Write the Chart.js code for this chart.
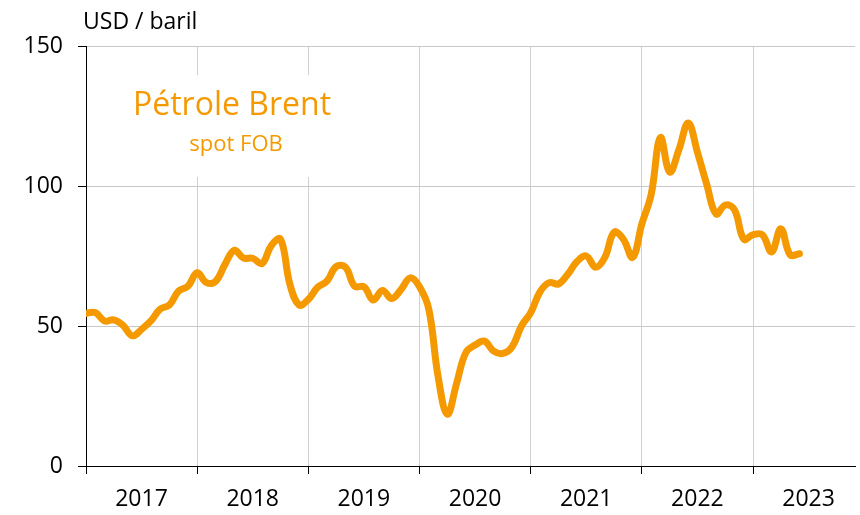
<!DOCTYPE html>
<html>
<head>
<meta charset="utf-8">
<script src="https://cdn.jsdelivr.net/npm/chart.js@4/dist/chart.umd.min.js"></script>
<style>
  html, body { margin: 0; padding: 0; background: #fff; }
  #wrap { position: relative; width: 860px; height: 515px; }
</style>
</head>
<body>
<div id="wrap"><canvas id="myChart" width="860" height="515"></canvas></div>
<script>
// Brent spot FOB, monthly average, Jan 2017 .. Jun 2023 (USD / baril)
var years = ["2017", "2018", "2019", "2020", "2021", "2022", "2023"];
var yearStarts = [0, 12, 24, 36, 48, 60, 72];
var prices = [
    54.5, 54.8, 51.8, 52.2, 50.2, 46.5, 48.8, 51.8, 56.0, 57.5, 62.5, 64.2,
    69.0, 65.5, 66.0, 72.0, 77.0, 74.3, 74.2, 72.3, 78.7, 81.0, 65.0, 57.5,
    59.5, 63.8, 66.0, 71.2, 71.0, 64.2, 64.0, 59.3, 62.7, 59.8, 63.0, 67.2,
    64.0, 56.0, 32.0, 18.5, 29.5, 40.5, 43.2, 44.6, 41.0, 40.2, 42.6, 50.0,
    54.8, 62.2, 65.5, 65.0, 68.5, 73.0, 75.0, 71.0, 74.5, 83.5, 81.0, 74.5,
    86.5, 97.0, 117.3, 105.0, 113.0, 122.5, 112.0, 100.5, 90.0, 93.2, 91.5, 81.0,
    82.6, 82.6, 76.5, 84.7, 75.4, 75.8
];
var yTicks = [0, 50, 100, 150];

var orange = "#F49A00";
var font = "'Open Sans', 'Liberation Sans', sans-serif";

var titleBox = {
    id: "titleBox",
    beforeDatasetsDraw: function (chart) {
        var c = chart.ctx;
        c.save();
        c.fillStyle = "#fff";
        c.fillRect(112, 75, 240, 102);
        c.fillStyle = orange;
        c.textAlign = "center";
        c.textBaseline = "alphabetic";
        c.font = "32px " + font;
        c.fillText("Pétrole Brent", 232, 115);
        c.font = "22px " + font;
        c.fillText("spot FOB", 236, 151);
        c.fillStyle = "#000";
        c.textAlign = "left";
        c.font = "23px " + font;
        c.fillText("USD / baril", 83, 29);
        c.restore();
    }
};

var ctx = document.getElementById("myChart").getContext("2d");

new Chart(ctx, {
    type: "line",
    data: {
        datasets: [{
            label: "Brent",
            data: prices.map(function (v, i) { return { x: i, y: v }; }),
            borderColor: orange,
            borderWidth: 7,
            borderCapStyle: "round",
            borderJoinStyle: "round",
            pointRadius: 0,
            tension: 0.4,
            fill: false
        }]
    },
    options: {
        responsive: false,
        animation: false,
        layout: { padding: { top: 46, right: 5, left: 0, bottom: 0 } },
        plugins: {
            legend: { display: false },
            tooltip: { enabled: false }
        },
        scales: {
            x: {
                type: "linear",
                min: 0,
                max: 83,
                afterBuildTicks: function (scale) {
                    scale.ticks = yearStarts.map(function (v) { return { value: v }; });
                },
                afterFit: function (scale) { scale.height = 49; },
                ticks: {
                    autoSkip: false,
                    maxRotation: 0,
                    labelOffset: 55.5,
                    padding: 12,
                    color: "#000",
                    font: { family: font, size: 23 },
                    callback: function (value, index) { return years[index]; }
                },
                grid: {
                    color: "#d0d0d0",
                    tickColor: "#000",
                    tickLength: 8,
                    lineWidth: 1
                },
                border: { color: "#000", width: 1 }
            },
            y: {
                min: 0,
                max: 150,
                afterBuildTicks: function (scale) {
                    scale.ticks = yTicks.map(function (v) { return { value: v }; });
                },
                afterFit: function (scale) { scale.width = 86; },
                ticks: {
                    padding: 15,
                    color: "#000",
                    font: { family: font, size: 23 }
                },
                grid: {
                    color: "#c8c8c8",
                    tickColor: "#000",
                    tickLength: 8
                },
                border: { color: "#000", width: 1 }
            }
        }
    },
    plugins: [titleBox]
});
</script>
</body>
</html>
